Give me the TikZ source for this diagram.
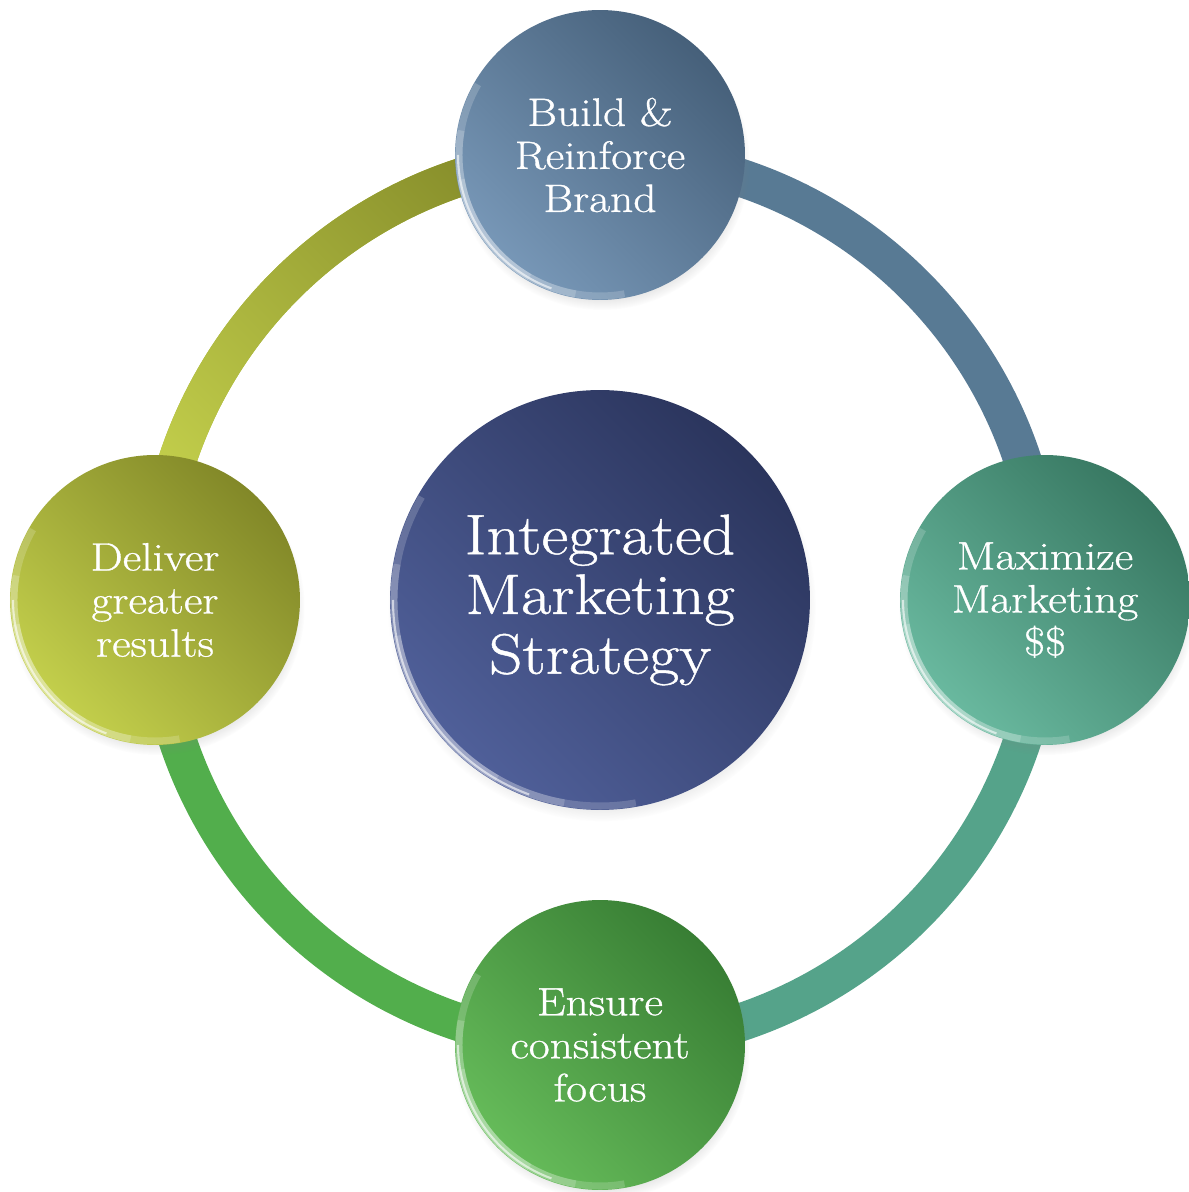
\documentclass[tikz,border=0pt]{standalone}
\usepackage{fontspec}
\setmainfont{Latin Modern Roman}[FakeStretch=1.15, FakeBold=0.8]
\usetikzlibrary{calc, shadows}
\definecolor{imsnavydark}{HTML}{2B355D}
\definecolor{imsnavylight}{HTML}{50609A}
\definecolor{imsslatedark}{HTML}{46607A}
\definecolor{imsslatelight}{HTML}{7898B8}
\definecolor{imstealdark}{HTML}{387862}
\definecolor{imsteallight}{HTML}{6ABAA0}
\definecolor{imsgreendark}{HTML}{387E34}
\definecolor{imsgreenlight}{HTML}{66BC5A}
\definecolor{imsolivedark}{HTML}{828828}
\definecolor{imsolivelight}{HTML}{C4D04C}
\definecolor{imsslatering}{HTML}{587A94}
\definecolor{imstealring}{HTML}{55A38A}
\definecolor{imsgreenring}{HTML}{52AE4C}
\definecolor{imsolivering}{HTML}{A6B53B}

\tikzset{
  bubble/.style 2 args={circle, inner sep=0pt, outer sep=0pt, text=white, align=center,
    top color=#1, bottom color=#2, shading angle=-45,
    circular drop shadow={shadow scale=1.02, shadow xshift=1pt, shadow yshift=-4pt, opacity=0.35}},
  hub/.style 2 args={bubble={#1}{#2}, minimum size=8.4cm, font=\fontsize{32.5}{34}\selectfont},
  sat/.style 2 args={bubble={#1}{#2}, minimum size=5.8cm, font=\fontsize{22.5}{24.5}\selectfont},
  ringband/.style={line width=0.76cm},
  rimlight/.style={white},
}

\begin{document}
\begin{tikzpicture}[x=0.02cm, y=0.02cm]
  \useasboundingbox (-600,-592) rectangle (588,600);
  % Coordinates of the four stations on the ring
  \coordinate (pbuild) at (0,445);
  \coordinate (pmax) at (445,0);
  \coordinate (pensure) at (0,-445);
  \coordinate (pdeliver) at (-445,0);
  % Ring
  \draw[ringband, imsslatering] (pbuild) arc[start angle=90, end angle=0, radius=445];
  \draw[ringband, imstealring] (pmax) arc[start angle=0, end angle=-90, radius=445];
  \draw[ringband, imsgreenring] (pensure) arc[start angle=270, end angle=180, radius=445];
  \draw[ringband, imsolivering] (pdeliver) arc[start angle=180, end angle=90, radius=445];
  % olive quarter fades from light (left) to dark (top)
  \shade[top color=imsolivedark!90!imsolivering, bottom color=imsolivelight, shading angle=-45]
    (180:464) arc[start angle=180, end angle=90, radius=464]
    -- (90:426) arc[start angle=90, end angle=180, radius=426] -- cycle;
  % Hub and stations
  \node[hub={imsnavydark}{imsnavylight}] (core) at (0,0) {Integrated\\Marketing\\Strategy};
  \node[sat={imsslatedark}{imsslatelight}] (build) at (pbuild) {Build \&\\Reinforce\\Brand};
  \node[sat={imstealdark}{imsteallight}] (max) at (pmax) {Maximize\\Marketing\\\$\$};
  \node[sat={imsgreendark}{imsgreenlight}] (ensure) at (pensure) {Ensure\\consistent\\focus};
  \node[sat={imsolivedark}{imsolivelight}] (deliver) at (pdeliver) {Deliver\\greater\\results};
  % Glossy rims, tapered towards both ends
  \foreach \n/\r in {core/210, build/145, max/145, ensure/145, deliver/145}{
    \foreach \w in {65, 45, 25}{
      \draw[rimlight, opacity=0.18, line width=4pt] ($(\n.center)+(215-\w:\r-4)$) arc[start angle=215-\w, end angle=215+\w, radius=\r-4];
    }
    \draw[rimlight, opacity=0.6, line width=1.2pt] ($(\n.center)+(180:\r-3)$) arc[start angle=180, end angle=250, radius=\r-3];
  }
\end{tikzpicture}
\end{document}
